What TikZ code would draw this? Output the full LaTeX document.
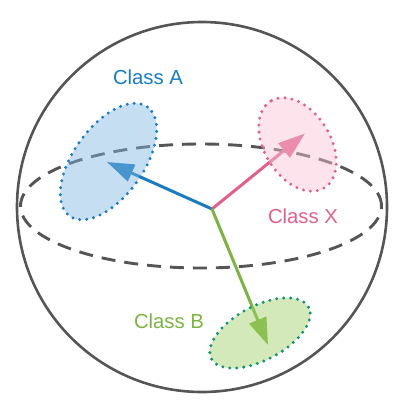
\documentclass[tikz,border=0pt]{standalone}
\usepackage{fontspec}
\setmainfont{Liberation Sans}
\usetikzlibrary{arrows.meta}
\definecolor{sphere}{RGB}{85,85,85}
\definecolor{blueline}{RGB}{26,123,191}
\definecolor{bluefill}{RGB}{130,182,227}
\definecolor{pinkline}{RGB}{224,96,138}
\definecolor{pinkfill}{RGB}{248,195,213}
\definecolor{greenline}{RGB}{124,179,66}
\definecolor{greenfill}{RGB}{159,208,104}
\definecolor{greenborder}{RGB}{20,145,115}
\tikzset{
  vec/.style={line width=3pt, -{Triangle[length=27pt,width=18pt]}},
  cluster/.style={line width=3.3pt, dash pattern=on 0pt off 7pt, line cap=round, fill opacity=0.46},
  lbl/.style={font=\fontsize{20.3}{23}\selectfont, inner sep=0pt}
}
\begin{document}
\begin{tikzpicture}[x=1pt,y=1pt]
\useasboundingbox (0,0) rectangle (415,-415);
% sphere
\draw[sphere, line width=2.6pt] (202,-207) circle[radius=185];
\draw[sphere, line width=2.9pt, dash pattern=on 14pt off 9pt] (201,-206) ellipse[x radius=180.5, y radius=62];
% vectors
\coordinate (O) at (212,-209);
\coordinate (tA) at (107,-162);
\coordinate (tX) at (305,-133.5);
\coordinate (tB) at (268,-345);
\draw[vec, blueline] (O) -- (tA);
\draw[vec, pinkline] (O) -- (tX);
\draw[vec, greenline] (O) -- (tB);
% clusters
\draw[cluster, blueline, fill=bluefill] (108.5,-161.5) ellipse[x radius=67, y radius=35, rotate=54.5];
\draw[cluster, pinkline, fill=pinkfill] (297.5,-144.5) ellipse[x radius=51, y radius=33, rotate=121.6];
\draw[cluster, greenborder, fill=greenfill] (260,-333) ellipse[x radius=55, y radius=27, rotate=28];
% labels
\node[lbl, text=blueline] (lA) at (148,-77) {Class A};
\node[lbl, text=pinkline] (lX) at (303,-216) {Class X};
\node[lbl, text=greenline] (lB) at (169,-321) {Class B};
\end{tikzpicture}
\end{document}
